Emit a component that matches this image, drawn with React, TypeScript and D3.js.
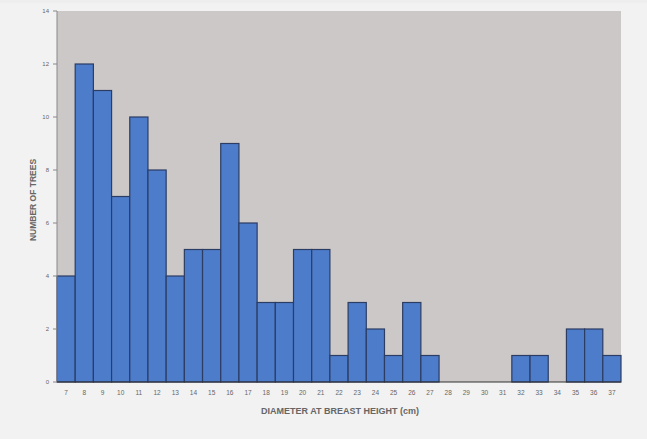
import React from "react";
import * as d3 from "d3";

const diameters = [7,8,9,10,11,12,13,14,15,16,17,18,19,20,21,22,23,24,25,26,27,28,29,30,31,32,33,34,35,36,37];
const counts = [4,12,11,7,10,8,4,5,5,9,6,3,3,5,5,1,3,2,1,3,1,0,0,0,0,1,1,0,2,2,1];
const yTicks = [0,2,4,6,8,10,12,14];

export default function App() {
  const W = 647, H = 439;
  const left = 57, right = 621, top = 11, bottom = 382;
  const x = d3.scaleBand<number>().domain(diameters).range([left, right]).padding(0);
  const y = d3.scaleLinear().domain([0, 14]).range([bottom, top]);
  return (
    <svg width={W} height={H} style={{ position: "absolute", left: 0, top: 0, background: "#eeeeee" }}>
      <rect x={0} y={3} width={W} height={H - 3} fill="#f2f2f2" />
      <rect x={left} y={top} width={right - left} height={bottom - top} fill="#ccc8c7" />
      {diameters.map((d, i) => counts[i] > 0 ? (
        <rect key={d} x={x(d)} y={y(counts[i])} width={x.bandwidth()} height={bottom - y(counts[i])}
          fill="#4d7ccb" stroke="#2b3d63" strokeWidth={1.2} />
      ) : null)}
      <line x1={left} x2={left} y1={top} y2={bottom} stroke="#8a8a8a" strokeWidth={1} />
      <line x1={left} x2={right} y1={bottom} y2={bottom} stroke="#333" strokeWidth={1.2} />
      {yTicks.map(t => (
        <g key={t}>
          <line x1={left - 4} x2={left} y1={y(t)} y2={y(t)} stroke="#888" />
          <text x={left - 8} y={y(t)} dy="0.35em" textAnchor="end" fontSize={6} fill="#666" fontFamily="Liberation Sans, Arial, sans-serif">{t}</text>
        </g>
      ))}
      {diameters.map(d => (
        <text key={d} x={(x(d) as number) + x.bandwidth() / 2} y={395} textAnchor="middle" fontSize={6.5} fill="#666" fontFamily="Liberation Sans, Arial, sans-serif">{d}</text>
      ))}
      <text x={340} y={414} textAnchor="middle" fontSize={9} fontWeight="bold" fill="#666" fontFamily="Liberation Sans, Arial, sans-serif">DIAMETER AT BREAST HEIGHT (cm)</text>
      <text transform={`translate(36,200) rotate(-90)`} textAnchor="middle" fontSize={8.5} fontWeight="bold" fill="#666" fontFamily="Liberation Sans, Arial, sans-serif">NUMBER OF TREES</text>
    </svg>
  );
}
